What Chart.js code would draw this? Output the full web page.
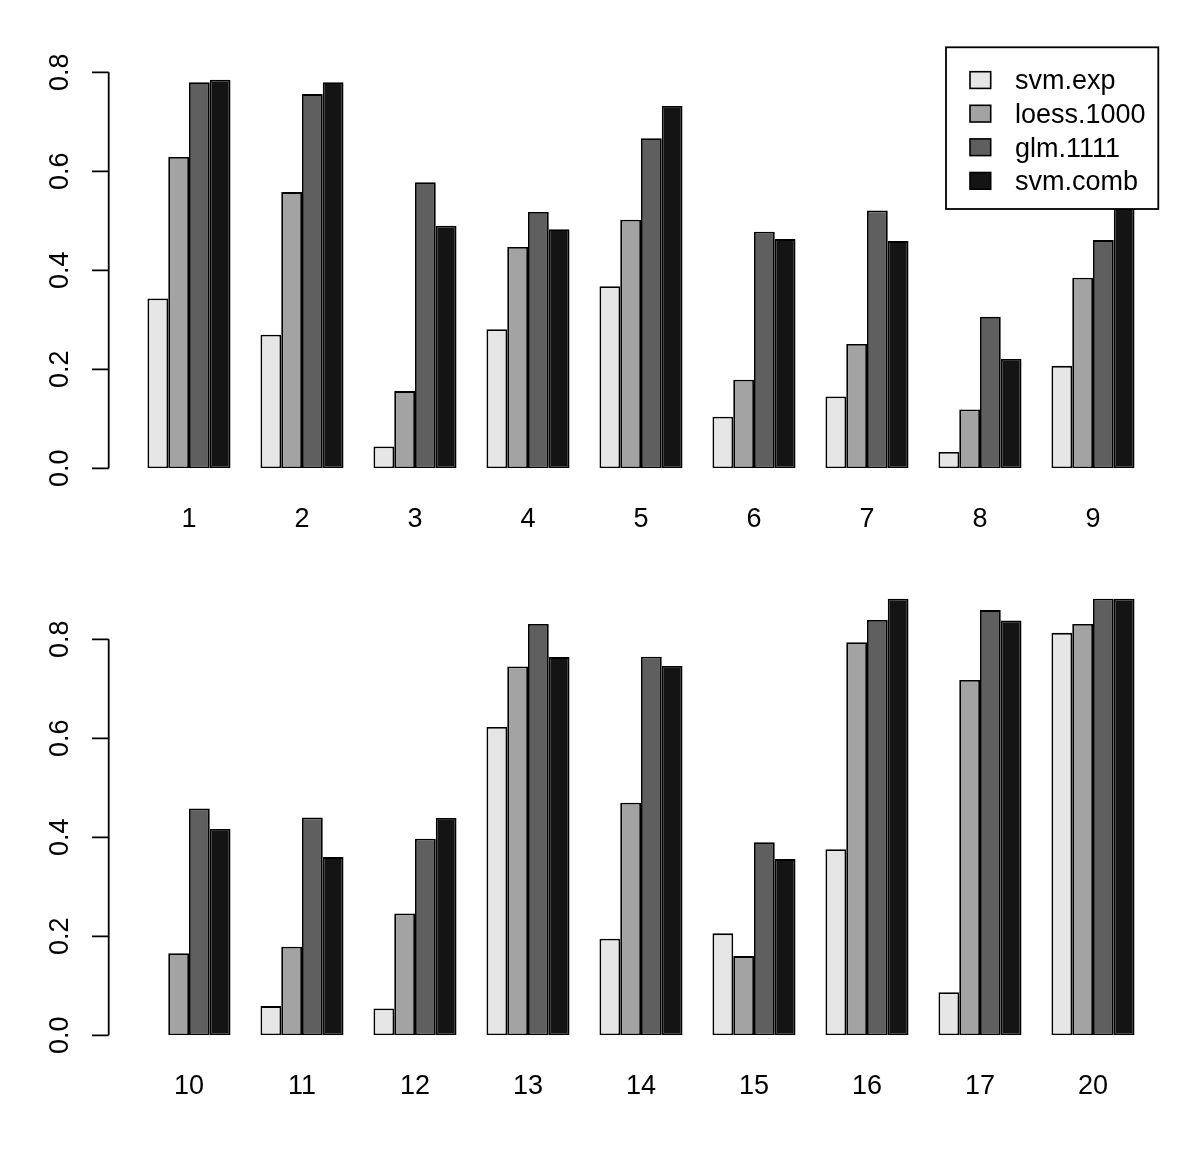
<!DOCTYPE html>
<html lang="en">
<head>
    <meta charset="UTF-8">
    <title>Grouped bars</title>
    <script src="https://cdn.jsdelivr.net/npm/chart.js"></script>
    <style>
        body {
            margin: 0;
            background: #ffffff;
        }
        #page {
            position: relative;
            width: 1200px;
            height: 1155px;
            background: #ffffff;
        }
        canvas {
            position: absolute;
            left: 0;
        }
        #top { top: 0; }
        #bottom { top: 578px; }
    </style>
</head>
<body>
<div id="page">
    <canvas id="top" width="1200" height="578"></canvas>
    <canvas id="bottom" width="1200" height="577"></canvas>
</div>
<script>
// series names and colours
const seriesNames = ['svm.exp', 'loess.1000', 'glm.1111', 'svm.comb'];
const seriesColors = ['#E6E6E6', '#A3A3A3', '#5F5F5F', '#141414'];

// top panel
const labelsTop = ['1', '2', '3', '4', '5', '6', '7', '8', '9'];
const svmExpTop = [0.343, 0.270, 0.044, 0.281, 0.368, 0.104, 0.145, 0.033, 0.207];
const loessTop  = [0.629, 0.558, 0.156, 0.447, 0.502, 0.179, 0.251, 0.119, 0.385];
const glmTop    = [0.780, 0.756, 0.578, 0.518, 0.667, 0.478, 0.521, 0.306, 0.461];
const combTop   = [0.785, 0.780, 0.490, 0.483, 0.732, 0.463, 0.459, 0.221, 0.534];

// bottom panel
const labelsBottom = ['10', '11', '12', '13', '14', '15', '16', '17', '20'];
const svmExpBottom = [null, 0.059, 0.054, 0.623, 0.195, 0.206, 0.376, 0.087, 0.813];
const loessBottom  = [0.166, 0.179, 0.246, 0.745, 0.470, 0.160, 0.794, 0.718, 0.831];
const glmBottom    = [0.458, 0.440, 0.397, 0.831, 0.765, 0.390, 0.839, 0.859, 0.882];
const combBottom   = [0.417, 0.360, 0.439, 0.764, 0.746, 0.356, 0.882, 0.838, 0.882];

// y axis ticks
const yTicks = [0, 0.2, 0.4, 0.6, 0.8];
const yMax = 0.9;

const FONT = "'Liberation Sans', Arial, Helvetica, sans-serif";

// R-style y axis: line only between first and last tick, rotated labels
const rAxis = {
    id: 'rAxis',
    afterDraw(chart) {
        const ctx = chart.ctx;
        const y = chart.scales.y;
        const ax = 108.7;
        ctx.save();
        ctx.strokeStyle = '#000';
        ctx.lineWidth = 1.8;
        ctx.beginPath();
        ctx.moveTo(ax, y.getPixelForValue(yTicks[0]));
        ctx.lineTo(ax, y.getPixelForValue(yTicks[yTicks.length - 1]));
        yTicks.forEach(v => {
            const py = y.getPixelForValue(v);
            ctx.moveTo(ax, py);
            ctx.lineTo(ax - 16.7, py);
        });
        ctx.stroke();
        ctx.fillStyle = '#000';
        ctx.font = '27px ' + FONT;
        ctx.textAlign = 'center';
        ctx.textBaseline = 'middle';
        yTicks.forEach(v => {
            ctx.save();
            ctx.translate(61, y.getPixelForValue(v));
            ctx.rotate(-Math.PI / 2);
            ctx.fillText(v.toFixed(1), 0, 0);
            ctx.restore();
        });
        ctx.restore();
    }
};

// boxed legend drawn over the bars (top panel only)
const boxLegend = {
    id: 'boxLegend',
    afterDatasetsDraw(chart) {
        const ctx = chart.ctx;
        ctx.save();
        ctx.fillStyle = '#fff';
        ctx.fillRect(946, 47.3, 212.3, 161.7);
        ctx.strokeStyle = '#000';
        ctx.lineWidth = 1.8;
        ctx.strokeRect(946, 47.3, 212.3, 161.7);
        ctx.font = '27px ' + FONT;
        ctx.textAlign = 'left';
        ctx.textBaseline = 'middle';
        chart.data.datasets.forEach((ds, i) => {
            const cy = 80 + i * 33.6;
            ctx.fillStyle = ds.backgroundColor;
            ctx.fillRect(970, cy - 8.3, 20.7, 16.7);
            ctx.lineWidth = 1.6;
            ctx.strokeRect(970, cy - 8.3, 20.7, 16.7);
            ctx.fillStyle = '#000';
            ctx.fillText(ds.label, 1015, cy + 2);
        });
        ctx.restore();
    }
};

function makeDatasets(lists) {
    return lists.map((d, i) => ({
        label: seriesNames[i],
        data: d,
        backgroundColor: seriesColors[i],
        borderColor: '#000',
        borderWidth: 1.8,
        borderSkipped: false,
        barPercentage: 1.0,
        categoryPercentage: 0.735
    }));
}

function makeChart(id, labels, lists, xHeight, padTop, extra) {
    return new Chart(document.getElementById(id), {
        type: 'bar',
        data: { labels: labels, datasets: makeDatasets(lists) },
        options: {
            responsive: false,
            animation: false,
            layout: { padding: { left: 132.5, right: 50.5, top: padTop, bottom: 0 } },
            plugins: {
                legend: { display: false },
                tooltip: { enabled: false }
            },
            scales: {
                x: {
                    grid: { display: false, drawTicks: false },
                    border: { display: false },
                    ticks: { color: '#000', font: { family: FONT, size: 27 }, padding: 35 },
                    afterFit(s) { s.height = xHeight; }
                },
                y: {
                    display: false,
                    min: 0,
                    max: yMax
                }
            }
        },
        plugins: [rAxis].concat(extra)
    });
}

makeChart('top', labelsTop, [svmExpTop, loessTop, glmTop, combTop], 109.7, 22.8, [boxLegend]);
makeChart('bottom', labelsBottom, [svmExpBottom, loessBottom, glmBottom, combBottom], 119.7, 11.8, []);
</script>
</body>
</html>
